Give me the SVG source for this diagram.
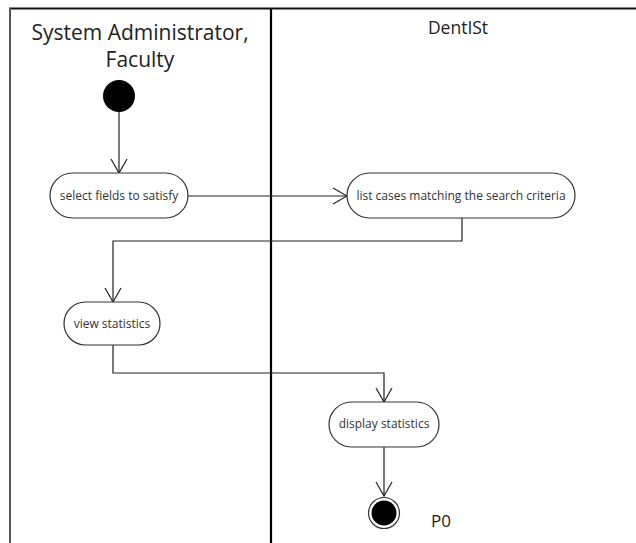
<svg xmlns="http://www.w3.org/2000/svg" width="636" height="543" viewBox="0 0 636 543">
  <style>
    .node rect { fill: #fff; stroke: #333; stroke-width: 1.2; }
    .node text { font-family: "Open Sans", "Liberation Sans", sans-serif; font-size: 12px; fill: #333; text-anchor: middle; }
    .head { font-family: "Open Sans", "Liberation Sans", sans-serif; fill: #222; text-anchor: middle; }
    #connectors path { fill: none; stroke: #222; stroke-width: 1.2; }
  </style>
  <defs>
    <marker id="open" viewBox="0 0 16 18" refX="15" refY="9" markerWidth="16" markerHeight="18" markerUnits="userSpaceOnUse" orient="auto">
      <path d="M1,1 L15,9 L1,17" fill="none" stroke="#222" stroke-width="1.2"/>
    </marker>
  </defs>
  <rect width="636" height="543" fill="#fff"/>

  <!-- swimlane frame -->
  <g id="lanes">
    <line x1="9" y1="8.5" x2="636" y2="8.5" stroke="#111" stroke-width="2"/>
    <line x1="10" y1="8" x2="10" y2="543" stroke="#555" stroke-width="2"/>
    <line x1="271" y1="8" x2="271" y2="543" stroke="#000" stroke-width="2.2"/>
    <text class="head" x="140" y="40" font-size="21">System Administrator,</text>
    <text class="head" x="140" y="67" font-size="21">Faculty</text>
    <text class="head" x="458" y="34" font-size="17.5">DentISt</text>
  </g>

  <!-- connectors -->
  <g id="connectors">
    <path d="M119,112 V173" marker-end="url(#open)"/>
    <path d="M188,196 H347" marker-end="url(#open)"/>
    <path d="M462,218 V241 H113 V302" marker-end="url(#open)"/>
    <path d="M113,345 V373 H384 V402" marker-end="url(#open)"/>
    <path d="M384,447 V496" marker-end="url(#open)"/>
  </g>

  <g id="start">
    <circle cx="119" cy="96" r="16" fill="#000"/>
  </g>

  <g id="select-fields" class="node">
    <rect x="50" y="173" width="138" height="45" rx="22.5"/>
    <text x="119" y="200">select fields to satisfy</text>
  </g>

  <g id="list-cases" class="node">
    <rect x="347" y="173" width="228" height="45" rx="22.5"/>
    <text x="461" y="200">list cases matching the search criteria</text>
  </g>

  <g id="view-statistics" class="node">
    <rect x="64" y="302" width="96" height="43" rx="21.5"/>
    <text x="112" y="328">view statistics</text>
  </g>

  <g id="display-statistics" class="node">
    <rect x="329" y="402" width="110" height="45" rx="22.5"/>
    <text x="384" y="428">display statistics</text>
  </g>

  <g id="end">
    <circle cx="384" cy="513" r="15.5" fill="#fff" stroke="#333" stroke-width="1.2"/>
    <circle cx="384" cy="513" r="12.5" fill="#000"/>
    <text class="head" x="441" y="527" font-size="17">P0</text>
  </g>
</svg>
